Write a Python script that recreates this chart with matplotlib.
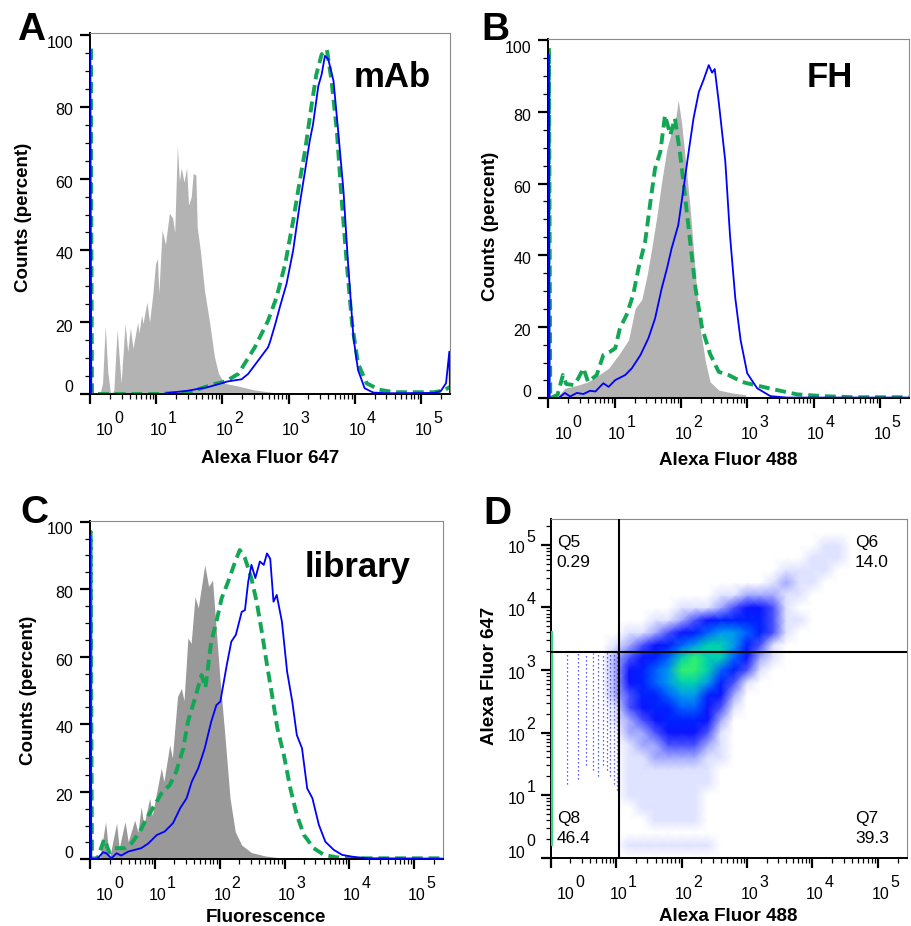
import numpy as np
import matplotlib
matplotlib.use('Agg')
import matplotlib.pyplot as plt
from matplotlib.ticker import FixedLocator, LogLocator, MultipleLocator, NullFormatter
from matplotlib.colors import LinearSegmentedColormap

plt.rcParams['font.family'] = ['Liberation Sans', 'DejaVu Sans']

# histogram curves: (log10 fluorescence, counts percent)
a_gray = [(0.15, 0), (0.19, 3), (0.23, 19), (0.27, 6), (0.31, 0), (0.36, 1), (0.41, 18), (0.45, 8),
          (0.47, 3), (0.53, 19.6), (0.57, 11.8), (0.61, 18.4), (0.65, 12.7), (0.72, 20), (0.74, 17),
          (0.78, 22), (0.80, 19.6), (0.86, 25.6), (0.90, 20), (0.95, 28), (0.99, 36.3), (1.02, 37.7),
          (1.04, 28), (1.09, 45.7), (1.14, 41.7), (1.20, 50.4), (1.25, 49), (1.28, 45), (1.32, 69.2),
          (1.35, 59.3), (1.38, 63), (1.42, 59), (1.46, 63), (1.49, 52.6), (1.53, 55), (1.56, 61.5),
          (1.60, 61), (1.62, 46.5), (1.67, 39.6), (1.73, 28.9), (1.81, 19.6), (1.88, 10.4), (1.94, 5.8),
          (2.03, 3), (2.24, 2.2), (2.49, 1.1), (2.74, 0.5), (2.9, 0)]
a_blue = [(0, 0), (0.003, 96), (0.02, 0), (1.1, 0), (1.18, 0.3), (1.47, 0.9), (1.78, 1.9), (2.08, 3.5),
          (2.29, 4.1), (2.39, 5.6), (2.54, 9.3), (2.69, 13), (2.72, 14.5), (2.80, 19.5), (2.87, 24.3),
          (2.97, 30.7), (3.07, 40), (3.17, 53), (3.25, 62.2), (3.32, 70.5), (3.37, 75.1), (3.45, 85.8),
          (3.50, 89), (3.55, 94.2), (3.60, 93.3), (3.68, 87.2), (3.75, 73.3), (3.83, 56.7), (3.90, 36.3),
          (3.98, 15.9), (4.05, 6.7), (4.15, 1.6), (4.28, 0.4), (4.5, 0.2), (5.2, 0.3), (5.3, 0.8),
          (5.38, 3), (5.43, 11.8), (5.44, 0)]
a_green = [(0, 0), (0.01, 97), (0.03, 0), (1.0, 0), (1.5, 0.5), (1.88, 2.8), (2.05, 3.5), (2.24, 5.6),
           (2.49, 13), (2.69, 20.4), (2.82, 27), (2.95, 36.3), (3.07, 48.3), (3.17, 59.4), (3.25, 67.8),
           (3.35, 80.7), (3.42, 89), (3.50, 94.6), (3.58, 96), (3.65, 87.2), (3.73, 73.3), (3.80, 54.8),
           (3.88, 36.3), (3.96, 19.6), (4.05, 8.5), (4.18, 3), (4.37, 1.2), (4.6, 0.5), (5.2, 0.5),
           (5.35, 1), (5.44, 2)]

b_gray = [(0.12, 0), (0.25, 2.8), (0.45, 3.7), (0.6, 4.6), (0.76, 6.5), (0.91, 8.4), (1.06, 12.1),
          (1.21, 16.3), (1.31, 25.1), (1.41, 27.6), (1.49, 34.4), (1.56, 41.9), (1.64, 51.2), (1.71, 60.5),
          (1.79, 69.8), (1.86, 74.5), (1.92, 78), (1.96, 83.3), (2.01, 77), (2.06, 68), (2.14, 53),
          (2.22, 34.4), (2.29, 19.6), (2.37, 10.2), (2.44, 4.6), (2.57, 2.3), (2.77, 1.5), (2.97, 1.0),
          (3.0, 0)]
b_blue = [(0, 0), (0.003, 96), (0.02, 0), (0.15, 0), (0.25, 1.5), (0.33, 0.5), (0.43, 1.5), (0.53, 1.2),
          (0.63, 2.1), (0.71, 1.9), (0.83, 4.2), (0.91, 3.2), (1.01, 5.1), (1.16, 6.5), (1.26, 8.4),
          (1.39, 12.1), (1.51, 16.8), (1.61, 22.3), (1.71, 30.7), (1.79, 36.3), (1.86, 41.9), (1.96, 48.4),
          (2.04, 58.7), (2.11, 68), (2.19, 78.2), (2.27, 85.6), (2.34, 88.9), (2.42, 93.1), (2.47, 91),
          (2.51, 92), (2.57, 82.9), (2.67, 66.1), (2.74, 45.6), (2.82, 28), (2.90, 16.3), (3.0, 7),
          (3.15, 2.8), (3.35, 0.6), (3.6, 0.2), (5.45, 0.2)]
b_green = [(0, 0), (0.01, 98), (0.03, 0), (0.14, 1), (0.22, 6.5), (0.27, 4), (0.38, 3.7), (0.45, 5.5),
           (0.53, 8.4), (0.6, 4.6), (0.73, 6.5), (0.83, 12.1), (0.93, 13), (1.01, 14), (1.08, 19.6),
           (1.18, 23.3), (1.28, 28.9), (1.36, 36.3), (1.46, 43.7), (1.54, 54.9), (1.61, 64.2), (1.69, 68.9),
           (1.76, 79.1), (1.84, 73.6), (1.91, 78.2), (1.99, 68), (2.06, 56.8), (2.14, 43.7), (2.22, 30.7),
           (2.32, 19.6), (2.44, 12.4), (2.57, 7.4), (2.72, 6.5), (2.92, 4.6), (3.0, 4.2), (3.4, 2.5),
           (3.75, 1.1), (4.15, 0.6), (4.6, 0.3), (5.45, 0.3)]

c_gray = [(0.15, 0), (0.24, 11.1), (0.30, 0.3), (0.41, 10.7), (0.45, 3.3), (0.54, 11.1), (0.59, 5.2),
          (0.69, 11.6), (0.74, 8), (0.79, 15.6), (0.83, 10), (0.92, 18.1), (0.96, 13), (1.03, 20),
          (1.10, 27), (1.14, 23), (1.23, 33.9), (1.27, 30), (1.35, 48.2), (1.41, 50.6), (1.45, 47),
          (1.51, 65.5), (1.56, 64), (1.62, 77.8), (1.67, 74.5), (1.77, 87.2), (1.83, 80.8), (1.89, 82.7),
          (1.93, 72.4), (2.0, 54.6), (2.08, 36.8), (2.16, 18.1), (2.24, 8.2), (2.34, 4.2), (2.49, 2),
          (2.70, 1), (2.9, 0.5), (3.0, 0)]
c_blue = [(0, 0), (0.003, 96), (0.02, 0), (0.12, 0.3), (0.2, 2.1), (0.25, 1.8), (0.33, 0.3), (0.41, 1.8),
          (0.48, 1.1), (0.59, 2.3), (0.69, 2.8), (0.79, 3.3), (0.90, 4.7), (1.03, 7.2), (1.15, 8.2),
          (1.28, 10.7), (1.39, 15.1), (1.49, 18.1), (1.57, 23), (1.67, 27), (1.77, 32.9), (1.87, 40.8),
          (1.95, 45.7), (2.01, 46.7), (2.11, 57.6), (2.18, 64.5), (2.25, 66.5), (2.34, 73.3), (2.39, 73.8),
          (2.44, 82.2), (2.49, 87.2), (2.55, 83.3), (2.62, 88.2), (2.68, 87.2), (2.73, 90.6), (2.78, 89),
          (2.83, 76.3), (2.88, 78.3), (2.96, 70.4), (3.04, 55.6), (3.12, 46.7), (3.19, 36.8), (3.27, 32.9),
          (3.35, 21), (3.43, 18.1), (3.53, 10.2), (3.63, 5.2), (3.76, 2.8), (3.89, 1.3), (4.07, 0.7),
          (4.3, 0.3), (5.45, 0.2)]
c_green = [(0, 0), (0.01, 97), (0.03, 0), (0.12, 0.5), (0.22, 6), (0.30, 2), (0.38, 3.3), (0.54, 3.3),
           (0.64, 4.7), (0.77, 8.2), (0.87, 12.1), (1.0, 16.1), (1.10, 19.5), (1.23, 22), (1.33, 26),
           (1.44, 32.9), (1.51, 40.8), (1.62, 47.7), (1.72, 54.6), (1.78, 50.8), (1.87, 64.5), (1.95, 70.4),
           (2.03, 77.3), (2.13, 82.2), (2.24, 88.2), (2.31, 91.6), (2.39, 89.2), (2.49, 83.2), (2.57, 76.3),
           (2.65, 67.4), (2.73, 57.6), (2.80, 49.6), (2.89, 38.8), (2.99, 30.9), (3.09, 21), (3.19, 13.1),
           (3.30, 7.2), (3.45, 3.3), (3.61, 1.3), (3.8, 0.6), (4.0, 0.3), (5.45, 0.3)]

# panel D: event density level (0-9) on a 0.2-decade grid, rows from top (10^5.4) to bottom (10^0)
d_density = [
    "0000000000000000000000000000",
    "0000000000000000000000000000",
    "0000000000000000000001100000",
    "0000000000000000000011100000",
    "0000000000000000001111000000",
    "0000000000000000012110000000",
    "0000000000000112221100000000",
    "0000000000111234431000000000",
    "0000000011234555531100000000",
    "0000001123456776531000000000",
    "0000012345678875310000000000",
    "0000023456898864210000000000",
    "0000024567998653100000000000",
    "0000024567887531000000000000",
    "0000023556775420000000000000",
    "0000013455664310000000000000",
    "0000012345554200000000000000",
    "0000002234443100000000000000",
    "0000001223332100000000000000",
    "0000001122221100000000000000",
    "0000001111111000000000000000",
    "0000001111111000000000000000",
    "0000001111110000000000000000",
    "0000000111110000000000000000",
    "0000000011110000000000000000",
    "0000000000000000000000000000",
    "0000001111111000000000000000",
    "0000000000000000000000000000",
]
# low-value channels left of the gate (vertical streaks)
streak_x = [1.8, 2.6, 3.5, 4.4, 5.3, 6.3, 7.2, 8.1, 9.2, 10.4]
streak_lo = [15, 18, 30, 25, 20, 30, 25, 20, 15, 12]
streak_hi = [1900, 1900, 1800, 1900, 1900, 1900, 1950, 1950, 1950, 1950]
gate_x, gate_y = 11, 1950
quad_names = ["Q5", "Q6", "Q8", "Q7"]
quad_values = ["0.29", "14.0", "46.4", "39.3"]

W, H = 911, 926
XMAX = 10 ** 5.44
fig = plt.figure(figsize=(W / 100, H / 100), dpi=100)


def px(v):
    return v * 0.72


def box(x0, y0, x1, y1):
    return fig.add_axes([x0 / W, 1 - y1 / H, (x1 - x0) / W, (y1 - y0) / H])


def ftext(x, y, s, **kw):
    fig.text(x / W, 1 - y / H, s, **kw)


def style(ax):
    for s in ['top', 'right']:
        ax.spines[s].set_color('#8a8a8a')
        ax.spines[s].set_linewidth(0.8)
    for s in ['left', 'bottom']:
        ax.spines[s].set_color('black')
        ax.spines[s].set_linewidth(1.4)
    ax.tick_params(which='major', direction='out', length=7.5, width=1.6, color='black')
    ax.tick_params(which='minor', direction='out', length=3.5, width=0.9, color='black')
    ax.tick_params(which='both', top=False, right=False, labelbottom=False, labelleft=False)
    ax.set_xscale('log')
    ax.set_xlim(1, XMAX)
    ax.xaxis.set_major_locator(FixedLocator([10.0 ** e for e in range(6)]))
    ax.xaxis.set_minor_locator(LogLocator(base=10, subs=np.arange(2, 10), numticks=100))
    ax.xaxis.set_minor_formatter(NullFormatter())
    for e in range(6):
        dx = 15 if e == 0 else 2.5
        ax.annotate('10', xy=(10.0 ** e, 0), xycoords=('data', 'axes fraction'),
                    xytext=(px(dx), px(-41)), textcoords='offset points',
                    ha='center', va='baseline', fontsize=11.5, annotation_clip=False)
        ax.annotate(str(e), xy=(10.0 ** e, 0), xycoords=('data', 'axes fraction'),
                    xytext=(px(dx + 9.5), px(-29)), textcoords='offset points',
                    ha='left', va='baseline', fontsize=11.5, annotation_clip=False)


def hist_panel(ax, gray, gray_color, blue, green, ymax):
    gu, gy = np.array(gray).T
    ax.fill_between(10 ** gu, gy, color=gray_color, lw=0, zorder=1)
    nu, ny = np.array(green).T
    ax.plot(10 ** nu, ny, color='#13a655', lw=2.8, ls=(0, (2.8, 1.5)), zorder=2)
    bu, by = np.array(blue).T
    ax.plot(10 ** bu, by, color='#0000ff', lw=1.3, zorder=3)
    style(ax)
    ax.set_ylim(0, ymax)
    ax.yaxis.set_major_locator(MultipleLocator(20))
    ax.yaxis.set_minor_locator(MultipleLocator(5))
    offs = {0: -6, 20: 5, 40: 4, 60: 4.5, 80: 4, 100: 8}
    for v, d in offs.items():
        ax.annotate(str(v), xy=(0, v), xycoords=('axes fraction', 'data'),
                    xytext=(px(-17), px(-d)), textcoords='offset points',
                    ha='right', va='center', fontsize=11.5, annotation_clip=False)


axA = box(90, 33.3, 450, 394)
hist_panel(axA, a_gray, '#b3b3b3', a_blue, a_green, 100.5)
axB = box(548.3, 39, 909, 398.3)
hist_panel(axB, b_gray, '#b3b3b3', b_blue, b_green, 100.4)
axC = box(90, 521, 442.7, 859.3)
hist_panel(axC, c_gray, '#999999', c_blue, c_green, 100.2)

# panel D density plot
axD = box(550.7, 519.3, 906.7, 857.7)
levels = np.array([[int(ch) for ch in row] for row in d_density])[::-1]
nodes = 10 ** (0.2 * np.arange(levels.shape[1]))
gx, gy = np.meshgrid(nodes, 10 ** (0.2 * np.arange(levels.shape[0])))
cmap = LinearSegmentedColormap.from_list('flow', ['#ffffff', '#e0e3ff', '#a2a8ff', '#4a52ff', '#0a14ff',
                                                  '#0020ff', '#0060ff', '#0098f0', '#00d0b0', '#30f070'])
axD.pcolormesh(gx, gy, levels, shading='gouraud', cmap=cmap, vmin=0, vmax=9, zorder=1)
axD.vlines(streak_x, streak_lo, streak_hi, colors='#2a2aff', lw=0.9, linestyles=(0, (1, 2.2)), zorder=2)
axD.plot([1.03, 1.03], [1.6, 4000], color='#30d880', lw=1.5, zorder=3)
style(axD)
axD.set_yscale('log')
axD.set_ylim(1, 10 ** 5.41)
axD.yaxis.set_major_locator(FixedLocator([10.0 ** e for e in range(6)]))
axD.yaxis.set_minor_locator(LogLocator(base=10, subs=np.arange(2, 10), numticks=100))
axD.yaxis.set_minor_formatter(NullFormatter())
for e in range(6):
    dy = 0.5 if e == 0 else 8.5
    axD.annotate('10', xy=(0, 10.0 ** e), xycoords=('axes fraction', 'data'),
                 xytext=(px(-25.5), px(-dy)), textcoords='offset points',
                 ha='right', va='baseline', fontsize=11.5, annotation_clip=False)
    axD.annotate(str(e), xy=(0, 10.0 ** e), xycoords=('axes fraction', 'data'),
                 xytext=(px(-15.5), px(-dy + 11.7)), textcoords='offset points',
                 ha='right', va='baseline', fontsize=11.5, annotation_clip=False)
axD.axvline(gate_x, color='black', lw=1.5, zorder=5)
axD.axhline(gate_y, color='black', lw=1.5, zorder=5)
qpos = [(556.7, 546.7), (855, 546.7), (556.7, 823.3), (855, 823.3)]
for (qx, qy), name, val in zip(qpos, quad_names, quad_values):
    ftext(qx, qy, name, fontsize=12.5, va='baseline', ha='left')
    ftext(qx, qy + 20, val, fontsize=12.5, va='baseline', ha='left')

# panel titles and letters
ftext(392, 87.3, 'mAb', fontsize=25, fontweight='bold', ha='center', va='baseline')
ftext(830, 87.3, 'FH', fontsize=25, fontweight='bold', ha='center', va='baseline')
ftext(358, 576.7, 'library', fontsize=25, fontweight='bold', ha='center', va='baseline')
for x, y, s in [(16.7, 40, 'A'), (481.7, 40, 'B'), (20.7, 523.3, 'C'), (483.3, 524, 'D')]:
    ftext(x, y, s, fontsize=28, fontweight='bold', ha='left', va='baseline')

# axis labels
ftext(270, 463, 'Alexa Fluor 647', fontsize=13.5, fontweight='bold', ha='center', va='baseline')
ftext(728.6, 465, 'Alexa Fluor 488', fontsize=13.5, fontweight='bold', ha='center', va='baseline')
ftext(266, 921.7, 'Fluorescence', fontsize=13.5, fontweight='bold', ha='center', va='baseline')
ftext(728.7, 921, 'Alexa Fluor 488', fontsize=13.5, fontweight='bold', ha='center', va='baseline')
ftext(24, 217.5, 'Counts (percent)', fontsize=13.5, fontweight='bold', ha='center', va='center', rotation=90)
ftext(490.5, 226.7, 'Counts (percent)', fontsize=13.5, fontweight='bold', ha='center', va='center', rotation=90)
ftext(29, 690, 'Counts (percent)', fontsize=13.5, fontweight='bold', ha='center', va='center', rotation=90)
ftext(490, 675.6, 'Alexa Fluor 647', fontsize=13.5, fontweight='bold', ha='center', va='center', rotation=90)

fig.savefig('out.png', dpi=100)
